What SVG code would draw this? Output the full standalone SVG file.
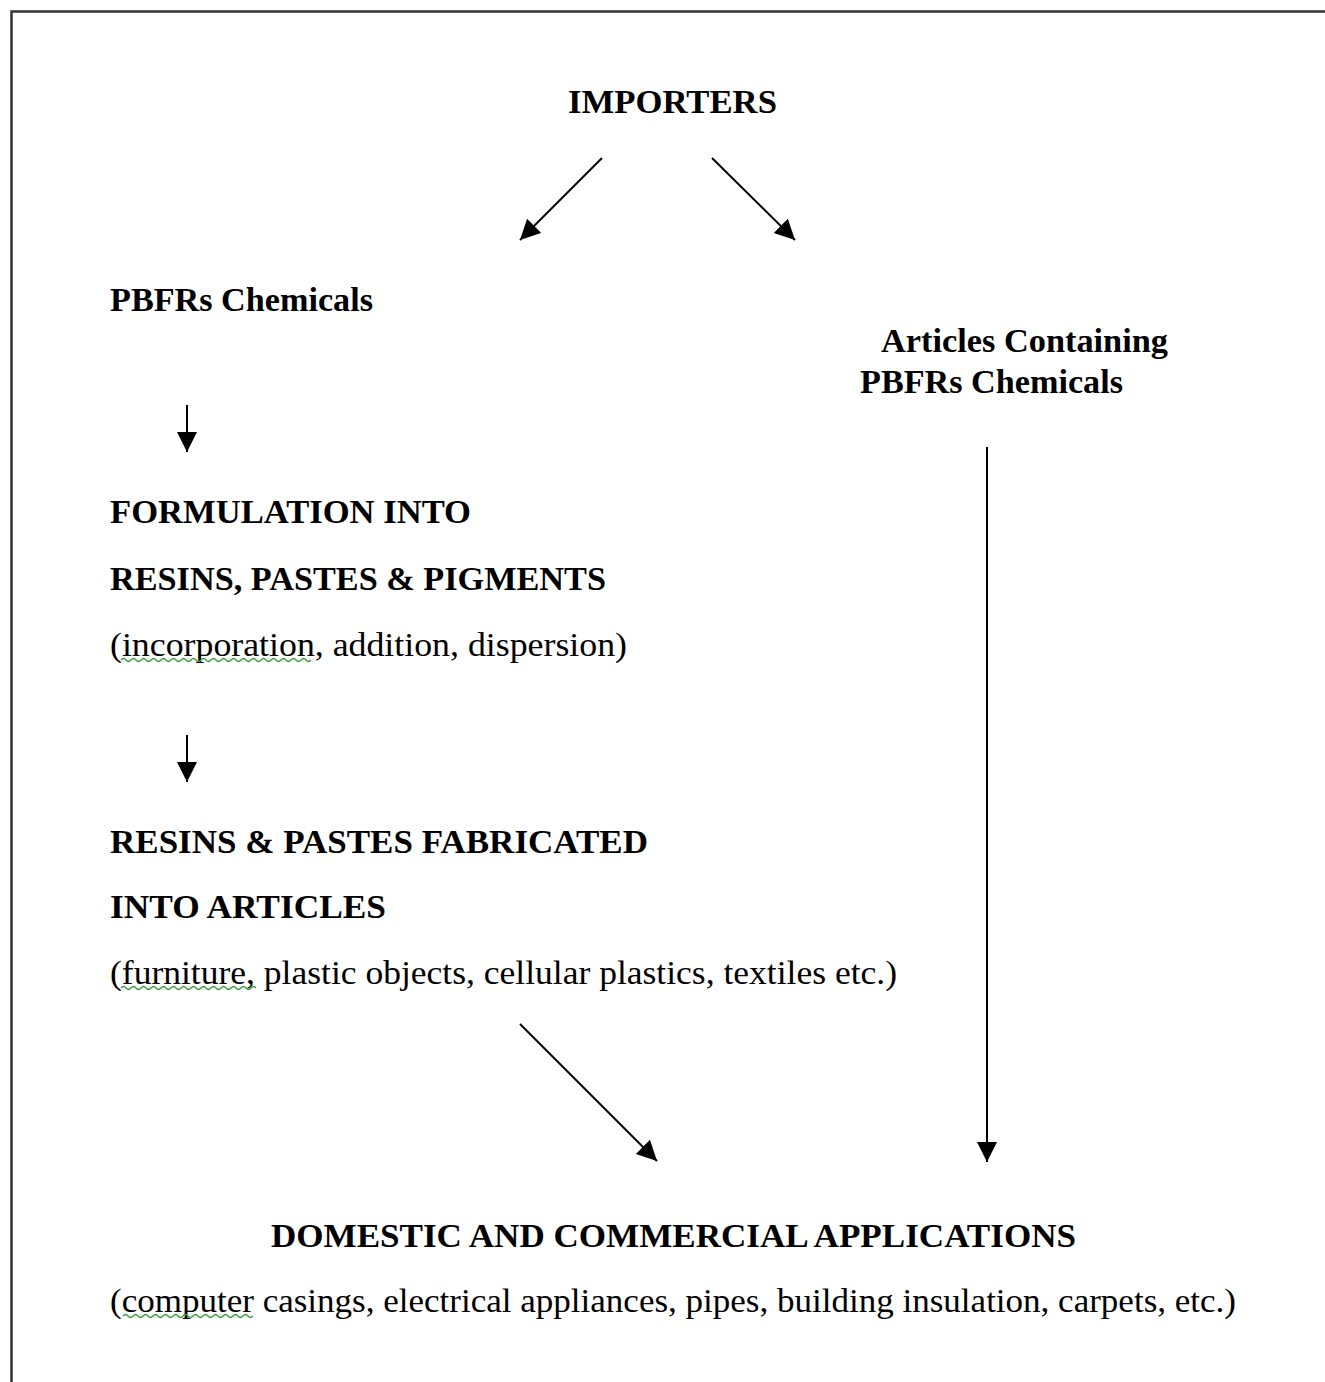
<svg xmlns="http://www.w3.org/2000/svg" width="1325" height="1382" viewBox="0 0 1325 1382">
<style>
text{font-family:"Liberation Serif","Times New Roman",serif;font-size:33px;fill:#000}
.b{font-weight:bold}
.c{stroke:#000;stroke-width:2;fill:none}
.sq{stroke:#3a9a3a;stroke-width:1.3;fill:none}
</style>
<defs>
<marker id="ah" viewBox="0 0 10 10" refX="10" refY="5" markerWidth="10" markerHeight="10" markerUnits="userSpaceOnUse" orient="auto"><path d="M0,0 L10,5 L0,10 z" fill="#000"/></marker>
<marker id="ah2" viewBox="0 0 10 10" refX="10" refY="5" markerWidth="20" markerHeight="24" markerUnits="userSpaceOnUse" orient="auto"><path d="M0,0 L10,5 L0,10 z" fill="#000"/></marker>
</defs>
<rect width="1325" height="1382" fill="#fff"/>
<path d="M11.5,1382 V11.5 H1325" stroke="#333" stroke-width="2.5" fill="none"/>
<g id="importers"><text class="b" x="568" y="113" textLength="209" lengthAdjust="spacingAndGlyphs">IMPORTERS</text></g>
<g id="pbfrs"><text class="b" x="110" y="311" textLength="263" lengthAdjust="spacingAndGlyphs">PBFRs Chemicals</text></g>
<g id="articles"><text class="b" x="881" y="352" textLength="287" lengthAdjust="spacingAndGlyphs">Articles Containing</text><text class="b" x="860" y="393" textLength="263" lengthAdjust="spacingAndGlyphs">PBFRs Chemicals</text></g>
<g id="formulation"><text class="b" x="110" y="523" textLength="361" lengthAdjust="spacingAndGlyphs">FORMULATION INTO</text><text class="b" x="110" y="590" textLength="496" lengthAdjust="spacingAndGlyphs">RESINS, PASTES &amp; PIGMENTS</text><text x="110" y="656" textLength="517" lengthAdjust="spacingAndGlyphs">(incorporation, addition, dispersion)</text><path class="sq" d="M121,660 q2.5,-3 5,0 t5,0 t5,0 t5,0 t5,0 t5,0 t5,0 t5,0 t5,0 t5,0 t5,0 t5,0 t5,0 t5,0 t5,0 t5,0 t5,0 t5,0 t5,0 t5,0 t5,0 t5,0 t5,0 t5,0 t5,0 t5,0 t5,0 t5,0 t5,0 t5,0 t5,0 t5,0 t5,0 t5,0 t5,0 t5,0 t5,0 t5,0"/></g>
<g id="fabricated"><text class="b" x="110" y="853" textLength="538" lengthAdjust="spacingAndGlyphs">RESINS &amp; PASTES FABRICATED</text><text class="b" x="110" y="918" textLength="276" lengthAdjust="spacingAndGlyphs">INTO ARTICLES</text><text x="110" y="984" textLength="787" lengthAdjust="spacingAndGlyphs">(furniture, plastic objects, cellular plastics, textiles etc.)</text><path class="sq" d="M121,988 q2.5,-3 5,0 t5,0 t5,0 t5,0 t5,0 t5,0 t5,0 t5,0 t5,0 t5,0 t5,0 t5,0 t5,0 t5,0 t5,0 t5,0 t5,0 t5,0 t5,0 t5,0 t5,0 t5,0 t5,0 t5,0 t5,0 t5,0 t5,0"/></g>
<g id="domestic"><text class="b" x="271" y="1247" textLength="805" lengthAdjust="spacingAndGlyphs">DOMESTIC AND COMMERCIAL APPLICATIONS</text><text x="110" y="1312" textLength="1126" lengthAdjust="spacingAndGlyphs">(computer casings, electrical appliances, pipes, building insulation, carpets, etc.)</text><path class="sq" d="M123,1316 q2.5,-3 5,0 t5,0 t5,0 t5,0 t5,0 t5,0 t5,0 t5,0 t5,0 t5,0 t5,0 t5,0 t5,0 t5,0 t5,0 t5,0 t5,0 t5,0 t5,0 t5,0 t5,0 t5,0 t5,0 t5,0 t5,0 t5,0"/></g>
<g id="connectors">
<line class="c" x1="602" y1="158" x2="520" y2="240" marker-end="url(#ah2)"/>
<line class="c" x1="712" y1="158" x2="795" y2="240" marker-end="url(#ah2)"/>
<line class="c" x1="187" y1="405" x2="187" y2="452" marker-end="url(#ah2)"/>
<line class="c" x1="187" y1="735" x2="187" y2="782" marker-end="url(#ah2)"/>
<line class="c" x1="520" y1="1024" x2="657" y2="1161" marker-end="url(#ah2)"/>
<line class="c" x1="987" y1="447" x2="987" y2="1162" marker-end="url(#ah2)"/>
</g>
</svg>
